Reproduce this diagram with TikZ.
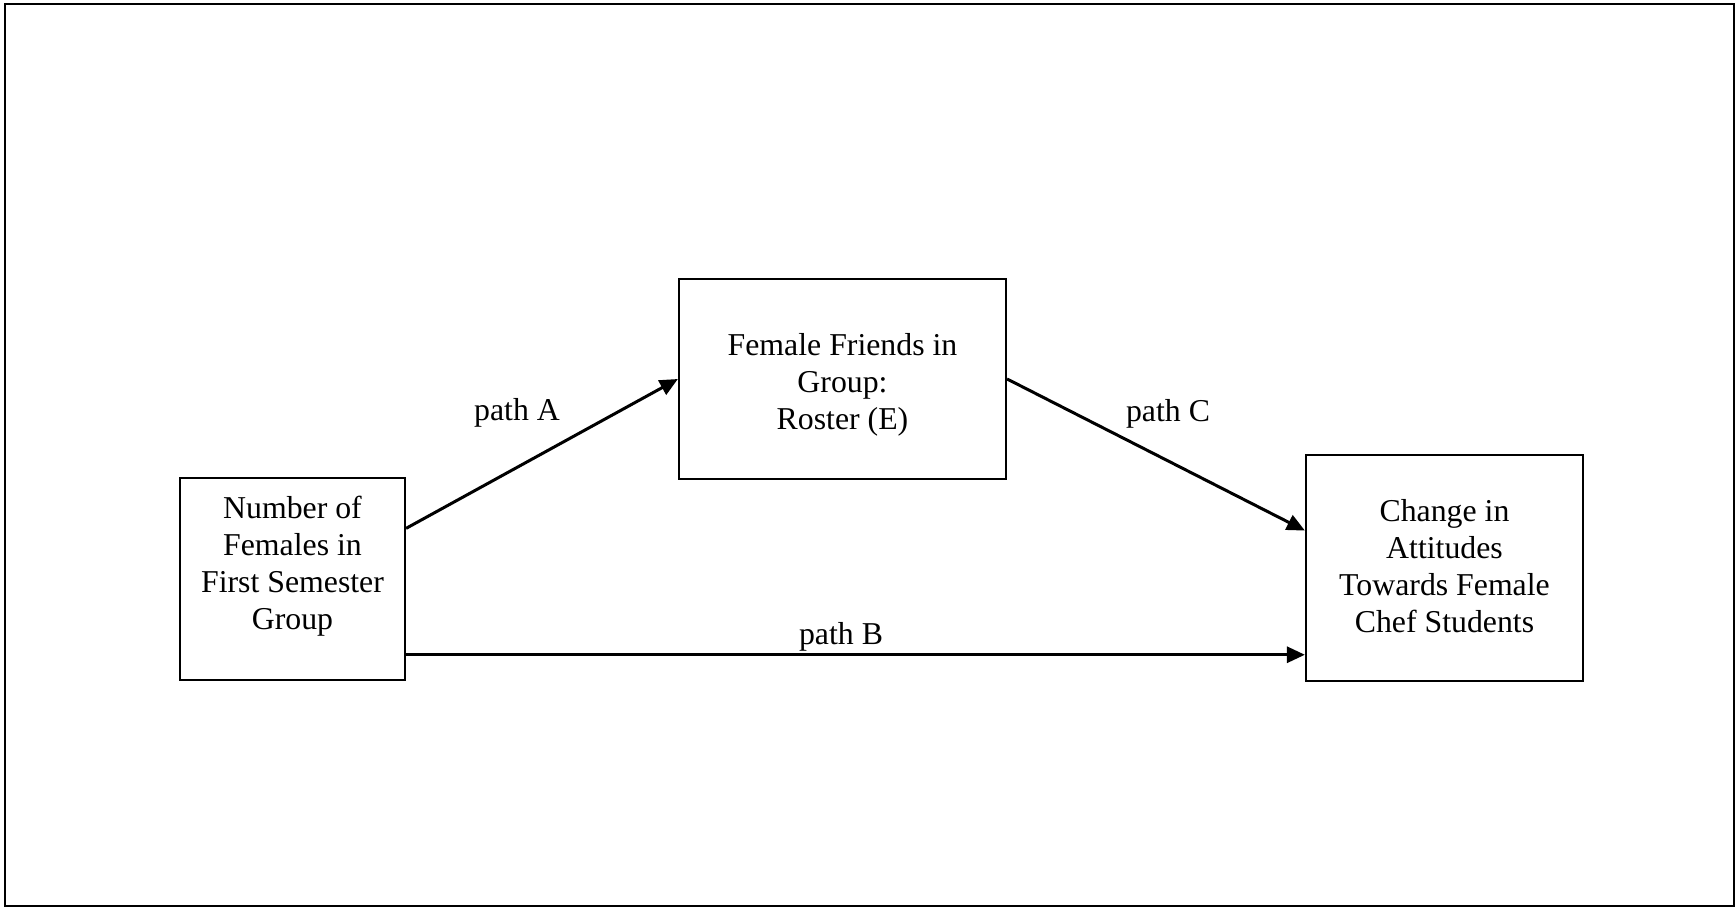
\documentclass[tikz,border=0pt]{standalone}
\usepackage{fontspec}
\setmainfont{Liberation Serif}
\usetikzlibrary{arrows.meta,calc}
\begin{document}
\begin{tikzpicture}[x=0.5pt,y=-0.5pt,
  box/.style={draw,line width=1.1pt,inner sep=0pt},
  txt/.style={align=center,inner sep=0pt,font=\fontsize{15.9}{18.5}\selectfont},
  link/.style={line width=1.5pt,-{Triangle[length=9pt,width=8pt]}}]
\useasboundingbox (0,0) rectangle (1736,908);
\draw[line width=1.1pt] (5,4) rectangle (1734,906);
% boxes
\node[box,minimum width=225pt*0.5,minimum height=202pt*0.5] (n1) at (292.5,579) {};
\node[box,minimum width=327pt*0.5,minimum height=200pt*0.5] (n2) at (842.5,379) {};
\node[box,minimum width=277pt*0.5,minimum height=226pt*0.5] (n3) at (1444.5,568) {};
% box texts
\node[txt] (t1) at (292.5,566) {Number of\\Females in\\First Semester\\Group};
\node[txt] (t2) at (842.5,385) {Female Friends in\\Group:\\Roster (E)};
\node[txt] (t3) at (1444.5,566) {Change in\\Attitudes\\Towards Female\\Chef Students};
% paths
\coordinate (a1) at ($(n1.north east)!0.252!(n1.south east)$);
\coordinate (b1) at ($(n1.north east)!0.871!(n1.south east)$);
\coordinate (c3) at ($(n3.north west)!0.336!(n3.south west)$);
\draw[link] (a1) -- (n2.west);
\draw[link] (n2.east) -- (c3);
\draw[link] (b1) -- (b1 -| n3.west);
% path labels
\node[txt] (la) at (517,413) {path A};
\node[txt] (lc) at (1168,414) {path C};
\node[txt] (lb) at (841,637) {path B};
\end{tikzpicture}
\end{document}
